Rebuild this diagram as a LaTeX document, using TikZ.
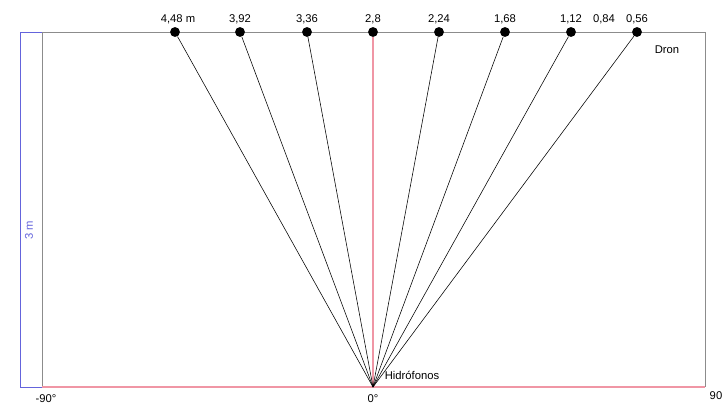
\documentclass[tikz,border=0pt]{standalone}
\usepackage{fontspec}
\setmainfont{Liberation Sans}
\usepackage{xcolor}
\usepackage{tikz}

\definecolor{framegray}{RGB}{140,140,140}
\definecolor{axisred}{RGB}{240,150,165}
\definecolor{measblue}{RGB}{100,100,220}

\begin{document}
\begin{tikzpicture}[x=0.025cm,y=-0.025cm,font=\fontsize{8}{9}\selectfont,
    dron/.style={circle,fill=black,inner sep=0pt,minimum size=7pt},
    lbl/.style={inner sep=1pt}]
        \useasboundingbox (0,0) rectangle (725,409);

        % frame
        \draw[framegray,semithick] (42,387) -- (42,32) -- (705,32) -- (705,387);
        \draw[axisred,line width=1pt] (42,387) -- (705,387);
        \draw[measblue,semithick] (42,32) -- (20,32) -- (20,387) -- (42,387);
        \node[measblue,rotate=90] (alto) at (29,230) {3 m};

        \coordinate (h) at (373,387);

        \node[dron] (d1) at (175,32) {};
        \node[dron] (d2) at (240,32) {};
        \node[dron] (d3) at (307,32) {};
        \node[dron] (d4) at (373,32) {};
        \node[dron] (d5) at (439,32) {};
        \node[dron] (d6) at (505,32) {};
        \node[dron] (d7) at (571,32) {};
        \node[dron] (d8) at (637,32) {};

        \node[lbl] (l1) at (178,19) {4,48 m};
        \node[lbl] (l2) at (240,19) {3,92};
        \node[lbl] (l3) at (307,19) {3,36};
        \node[lbl] (l4) at (373,19) {2,8};
        \node[lbl] (l5) at (439,19) {2,24};
        \node[lbl] (l6) at (505,19) {1,68};
        \node[lbl] (l7) at (571,19) {1,12};
        \node[lbl] (l8) at (604,19) {0,84};
        \node[lbl] (l9) at (637,19) {0,56};

        \draw[axisred,line width=1pt] (d4) -- (h);
        \draw (d1) -- (h);
        \draw (d2) -- (h);
        \draw (d3) -- (h);
        \draw (d5) -- (h);
        \draw (d6) -- (h);
        \draw (d7) -- (h);
        \draw (d8) -- (h);

        \node[lbl] (dr) at (667,50) {Dron};
        \node[lbl] (hid) at (412,375) {Hidrófonos};
        \node[lbl] (a1) at (46,399) {-90°};
        \node[lbl] (a2) at (373,399) {0°};
        \node[lbl] (a3) at (716,396) {90};
    \end{tikzpicture}
\end{document}
